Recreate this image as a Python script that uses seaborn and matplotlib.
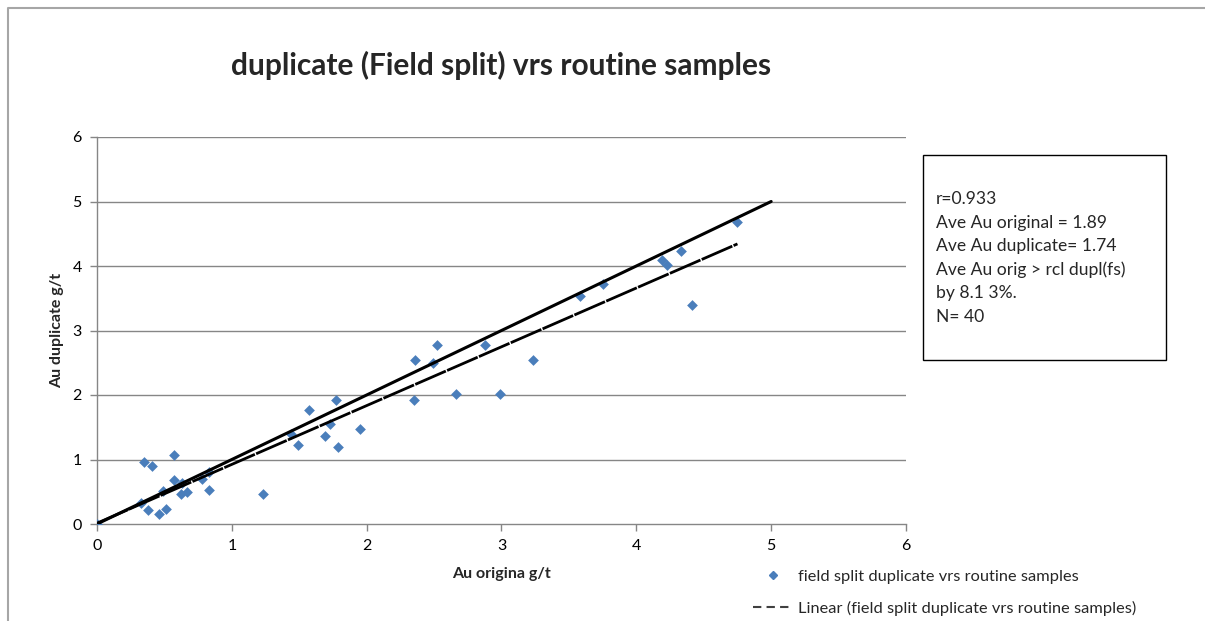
import numpy as np
import matplotlib.pyplot as plt
import seaborn as sns
from matplotlib.lines import Line2D
from matplotlib.patches import Rectangle

# ---- data ----
au_original = [0.00, 0.35, 0.41, 0.57, 0.57, 0.49, 0.33, 0.38, 0.46, 0.51,
               0.63, 0.62, 0.67, 0.78, 0.83, 0.83, 1.23, 1.44, 1.49, 1.57,
               1.69, 1.73, 1.77, 1.79, 1.95, 2.35, 2.36, 2.49, 2.52, 2.66,
               2.88, 2.99, 3.23, 3.58, 3.75, 4.19, 4.23, 4.33, 4.41, 4.75]
au_duplicate = [0.00, 0.96, 0.90, 1.07, 0.68, 0.51, 0.32, 0.22, 0.15, 0.24,
                0.63, 0.47, 0.50, 0.70, 0.81, 0.53, 0.47, 1.39, 1.22, 1.77,
                1.37, 1.55, 1.92, 1.19, 1.47, 1.92, 2.55, 2.49, 2.78, 2.01,
                2.78, 2.01, 2.54, 3.54, 3.72, 4.10, 4.01, 4.23, 3.39, 4.68]
ref_x = [0, 5]   # 1:1 line
ref_y = [0, 5]

title = "duplicate (Field split) vrs routine samples"
xlabel = "Au origina g/t"
ylabel = "Au duplicate g/t"
series_label = "field split duplicate vrs routine samples"
trend_label = "Linear (field split duplicate vrs routine samples)"
stats_lines = ["r=0.933",
               "Ave Au original = 1.89",
               "Ave Au duplicate= 1.74",
               "Ave Au orig > rcl dupl(fs)",
               "by 8.1 3%.",
               "N= 40"]
ticks = [0, 1, 2, 3, 4, 5, 6]

sns.set_style("white")
plt.rcParams["font.family"] = ["Lato", "DejaVu Sans"]

W, H = 1205, 621
fig = plt.figure(figsize=(W / 100, H / 100), dpi=100)
ax = fig.add_axes([97 / W, 1 - 524 / H, 809 / W, 387 / H])

grey = "#868686"
blue = "#4A7EBB"

# points
sns.scatterplot(x=au_original, y=au_duplicate, marker="D", s=30, color=blue,
                edgecolor=blue, linewidth=0, ax=ax, zorder=3)
# 1:1 line
sns.lineplot(x=ref_x, y=ref_y, color="black", linewidth=2.2, ax=ax, zorder=4)
# linear trendline (Excel style, data range only)
sns.regplot(x=au_original, y=au_duplicate, scatter=False, ci=None, truncate=True,
            line_kws=dict(color="black", linewidth=2.0, linestyle=(0, (12, 0.5)), zorder=4),
            ax=ax)

ax.set_xlim(0, 6)
ax.set_ylim(0, 6)
ax.set_xticks(ticks)
ax.set_yticks(ticks)
ax.set_xticklabels([str(t) for t in ticks])
ax.set_yticklabels([str(t) for t in ticks])
for t in ticks[1:]:
    ax.axhline(t, color=grey, linewidth=1, zorder=1)

for side in ["top", "right"]:
    ax.spines[side].set_visible(False)
for side in ["left", "bottom"]:
    ax.spines[side].set_color(grey)
    ax.spines[side].set_linewidth(1)
ax.tick_params(axis="both", direction="out", length=5, width=1, color=grey,
               labelsize=11.5, labelcolor="black", pad=6)
ax.tick_params(axis="x", bottom=True)
ax.tick_params(axis="y", left=True)

ax.set_xlabel(xlabel, fontsize=11.5, fontweight="bold", labelpad=10)
ax.set_ylabel(ylabel, fontsize=11.5, fontweight="bold", labelpad=6)

fig.text(501 / W, 1 - 65 / H, title, ha="center", va="center",
         fontsize=21.5, fontweight="bold")

# stats text box
fig.patches.append(Rectangle((923 / W, 1 - 360 / H), 243 / W, 205 / H,
                             transform=fig.transFigure, fill=False,
                             edgecolor="black", linewidth=1))
for i, line in enumerate(stats_lines):
    fig.text(936 / W, 1 - (199 + i * 23.6) / H, line, ha="left", va="center",
             fontsize=12.6)

# legend below the plot
handles = [Line2D([], [], marker="D", linestyle="none", color=blue, markersize=4),
           Line2D([], [], color="#404040", linewidth=1.5, linestyle=(0, (4, 2.5)))]
fig.legend(handles, [series_label, trend_label], loc="upper left",
           bbox_to_anchor=(745 / W, 1 - 561 / H), frameon=False, fontsize=11.8,
           borderpad=0, handlelength=2.4, handletextpad=0.35, labelspacing=1.05)

# outer chart border (top and left edges visible)
fig.add_artist(Line2D([8 / W, 8 / W, 1.0], [0.0, 1 - 8 / H, 1 - 8 / H],
                      transform=fig.transFigure, color="#A6A6A6", linewidth=1.5))

fig.savefig("out.png", dpi=100)
